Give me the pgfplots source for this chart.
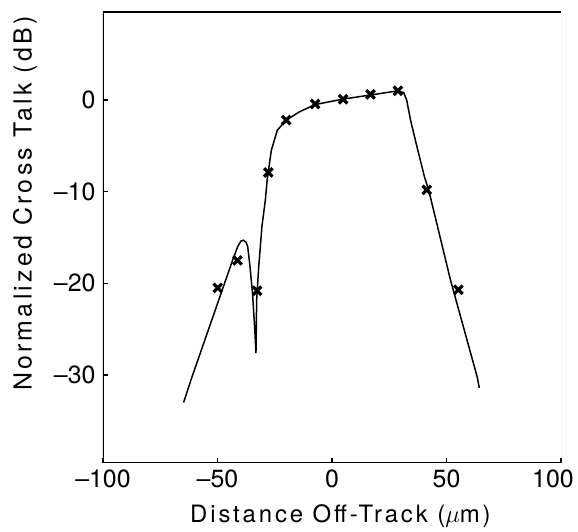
\documentclass[border=0pt]{standalone}
\usepackage{fontspec}
\setmainfont{TeX Gyre Heros}
\usepackage{pgfplots}
\pgfplotsset{compat=1.18}
\begin{document}
\begin{tikzpicture}
\useasboundingbox (-103bp,-69bp) rectangle (475bp,463bp);
\begin{axis}[
  at={(0,0)}, anchor=south west,
  scale only axis, width=458bp, height=451bp,
  xmin=-100, xmax=100, ymin=-39.6, ymax=9.6,
  xtick={-100,-50,0,50,100}, ytick={-30,-20,-10,0},
  xticklabels={\textendash100,\textendash50,0,50,\hspace*{-16bp}100},
  yticklabels={\textendash30,\textendash20,\textendash10,0},
  tick pos=left, tick align=inside, major tick length=5bp,
  axis line style={draw=none},
  tick style={line width=1.2pt, black},
  tick label style={font=\fontsize{25}{27}\selectfont},
  xticklabel style={yshift=-3bp},
  yticklabel style={xshift=-4bp},
  every axis y label/.style={at={(axis description cs:0,0.575)}, xshift=-78bp, rotate=90, anchor=center},
  every axis x label/.style={at={(axis description cs:0.49,0)}, xshift=13bp, yshift=-53bp, anchor=center},
  xlabel style={font=\fontsize{24}{26}\selectfont\addfontfeatures{LetterSpace=12}},
  ylabel style={font=\fontsize{25}{27}\selectfont\addfontfeatures{LetterSpace=13}},
  xlabel={Distance Off-Track ($\mu$m)},
  ylabel={Normalized Cross Talk (dB)},
]
\addplot[black, line width=1.5pt, mark=none] coordinates {
(-64.8,-33.0) (-61.4,-30.4) (-43.3,-17.4) (-41.2,-16.0) (-39.8,-15.4) (-38.7,-15.3) (-37.6,-15.5)
(-36.8,-16.0) (-35.8,-18.2) (-34.7,-21.1) (-33.8,-24.7) (-33.2,-27.6)
(-32.9,-21.8) (-32.0,-18.2) (-30.6,-13.8) (-29.1,-10.9) (-28.3,-8.7) (-26.5,-5.5)
(-23.9,-3.3) (-20.0,-2.2) (-14.3,-1.3) (-7.4,-0.5) (4.8,0.1) (17.0,0.55) (28.7,1.0)
(31.3,0.8) (32.6,0.0) (34.3,-2.2) (37.1,-5.1) (40.4,-8.4) (42.2,-9.8) (51.7,-19.6)
(63.5,-30.3) (64.3,-31.4)
};
\addplot[black, only marks, mark=x, mark size=6bp, mark options={line width=3.2pt}] coordinates {
(-49.9,-20.5) (-41.3,-17.5) (-32.7,-20.8) (-27.8,-7.9) (-20.0,-2.2) (-7.4,-0.44)
(4.9,0.08) (16.8,0.62) (28.8,1.01) (41.4,-9.8) (55.2,-20.7)
};
\draw[black, line width=1.4pt] (rel axis cs:1,1) -- (rel axis cs:0,1) -- (rel axis cs:0,0) -- (rel axis cs:1,0);
\draw[black!35, line width=0.9pt] (rel axis cs:1,0) -- (rel axis cs:1,1);
\end{axis}
\end{tikzpicture}
\end{document}
